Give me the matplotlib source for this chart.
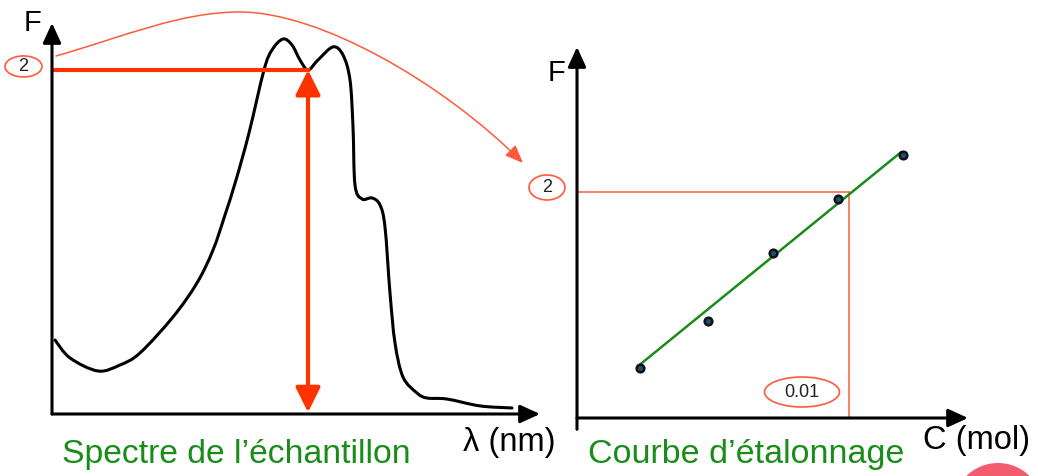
import numpy as np
import matplotlib
matplotlib.use("Agg")
import matplotlib.pyplot as plt
from matplotlib.patches import Ellipse, FancyArrowPatch, Circle, PathPatch
from matplotlib.path import Path

plt.rcParams['font.family'] = ['Liberation Sans', 'DejaVu Sans']

# Fluorescence spectrum of the sample
wavelength_nm = [203, 218, 246, 268, 288, 321, 345, 361, 373, 384, 397, 412, 420,
                 431, 440, 448, 456, 466, 481, 491, 498, 501, 503, 510, 520, 528,
                 533, 538, 543, 551, 565, 575, 595, 628, 660]
spectrum_F = [0.430, 0.326, 0.250, 0.285, 0.355, 0.564, 0.762, 0.953, 1.157, 1.360,
              1.634, 2.000, 2.116, 2.180, 2.145, 2.058, 2.000, 2.058, 2.134, 2.087,
              1.942, 1.669, 1.331, 1.250, 1.256, 1.215, 1.087, 0.703, 0.413, 0.215,
              0.122, 0.093, 0.087, 0.047, 0.035]
measure_lambda = 456   # wavelength chosen for the measurement
measure_F = 2          # fluorescence read for the sample

# Calibration standards
standard_C = [0.0023, 0.0048, 0.0072, 0.0096, 0.0120]
standard_F = [0.44, 0.86, 1.46, 1.94, 2.33]
fit_C = [0.0023, 0.0119]
fit_F = [0.47, 2.35]
sample_C = 0.01

RED = '#ff3300'
THIN_RED = '#ff5a3c'
GREEN = '#1a8c1a'

W, H = 1038, 476
fig = plt.figure(figsize=(W / 100, H / 100), dpi=100)
fig.patch.set_facecolor('white')


def rect(x0, y_top, x1, y_bot):
    return [x0 / W, 1 - y_bot / H, (x1 - x0) / W, (y_bot - y_top) / H]


bg = fig.add_axes([0, 0, 1, 1])
bg.set_xlim(0, W)
bg.set_ylim(H, 0)
bg.axis('off')

axL = fig.add_axes(rect(52, 23, 540, 414))
axL.set_xlim(200, 688)
axL.set_ylim(0, 2.273)
axL.axis('off')

axR = fig.add_axes(rect(577, 47, 968, 418))
axR.set_xlim(0, 0.014375)
axR.set_ylim(0, 3.283)
axR.axis('off')


def to_px(ax, x, y):
    return bg.transData.inverted().transform(ax.transData.transform((x, y)))


def smooth_path(ax, xs, ys):
    """Cubic Bezier path through the points (Catmull-Rom tangents, in display space)."""
    pts = ax.transData.transform(np.column_stack([xs, ys]))
    n = len(pts)
    verts = [pts[0]]
    codes = [Path.MOVETO]
    for i in range(n - 1):
        p0 = pts[i - 1] if i > 0 else pts[i]
        p1, p2 = pts[i], pts[i + 1]
        p3 = pts[i + 2] if i + 2 < n else pts[i + 1]
        verts += [p1 + (p2 - p0) / 6, p2 - (p3 - p1) / 6, p2]
        codes += [Path.CURVE4] * 3
    verts = ax.transData.inverted().transform(np.array(verts))
    return Path(verts, codes)


def draw_axes_arrows(ax, x0, x1, y0, y1, y_start=None):
    kw = dict(arrowstyle='-|>,head_length=1.2,head_width=0.55', mutation_scale=10,
              lw=2.2, color='black', shrinkA=0, shrinkB=0)
    ax.annotate('', xy=(x1, y0), xytext=(x0, y0), arrowprops=kw, annotation_clip=False)
    ax.annotate('', xy=(x0, y1), xytext=(x0, y0 if y_start is None else y_start),
                arrowprops=kw, annotation_clip=False)


# ---- left panel: spectrum ----
draw_axes_arrows(axL, 200, 688, 0, 2.273)
axL.add_patch(PathPatch(smooth_path(axL, wavelength_nm, spectrum_F), fill=False,
                        ec='black', lw=2.2, capstyle='round', joinstyle='round',
                        clip_on=False))
axL.plot([201, measure_lambda], [measure_F, measure_F], color=RED, lw=3, clip_on=False)
axL.annotate('', xy=(measure_lambda, measure_F), xytext=(measure_lambda, 0.01),
             arrowprops=dict(arrowstyle='<|-|>,head_length=1.5,head_width=0.75',
                             mutation_scale=10, lw=3, color=RED,
                             shrinkA=0, shrinkB=0),
             annotation_clip=False)

# ---- right panel: calibration curve ----
draw_axes_arrows(axR, 0, 0.014375, 0, 3.283, y_start=-0.1)
axR.plot([0, sample_C], [measure_F, measure_F], color=THIN_RED, lw=1.1, clip_on=False)
axR.plot([sample_C, sample_C], [0, measure_F], color=THIN_RED, lw=1.1, clip_on=False)
axR.plot(fit_C, fit_F, color=GREEN, lw=1.8, clip_on=False)
axR.plot(standard_C, standard_F, 'o', ms=5.5, mfc='#1a4f7a', mec='#111111',
         mew=1.8, clip_on=False)


# ---- value bubbles ----
def bubble(center, w, h, text):
    bg.add_patch(Ellipse(center, w, h, fill=False, ec=THIN_RED, lw=1.2))
    bg.text(center[0], center[1] + 0.5, text, ha='center', va='center',
            fontsize=13, color='#222222')


c = to_px(axL, 200, measure_F)
bubble((c[0] - 28.5, c[1] - 3.5), 37, 21, '2')
c = to_px(axR, 0, measure_F)
bubble((c[0] - 30, c[1] - 4.5), 36, 25, '2')
c = to_px(axR, sample_C, 0)
bubble((c[0] - 47, c[1] - 26), 75, 30, '0.01')

# curved arrow carrying the reading from the spectrum to the calibration
verts = [(56, 56), (126, 36), (180, 12), (240, 12),
         (320, 12), (443, 83), (523, 163)]
codes = [Path.MOVETO] + [Path.CURVE4] * 6
bg.add_patch(FancyArrowPatch(path=Path(verts, codes),
                             arrowstyle='-|>,head_length=1.1,head_width=0.45',
                             mutation_scale=10, lw=1.1, color=THIN_RED))

# ---- labels ----
bg.text(24, 9, 'F', fontsize=21, ha='left', va='top')
bg.text(548, 59, 'F', fontsize=21, ha='left', va='top')
bg.text(463, 427, 'λ (nm)', fontsize=23.5, ha='left', va='top')
bg.text(923, 425, 'C (mol)', fontsize=23.5, ha='left', va='top')
bg.text(62, 463, 'Spectre de l’échantillon', fontsize=24.3, color=GREEN,
        ha='left', va='baseline')
bg.text(588, 463, 'Courbe d’étalonnage', fontsize=24.5, color=GREEN,
        ha='left', va='baseline')

# corner logo fragment
bg.add_patch(Circle((998, 508), 45, color='#f24a5e', alpha=0.9, lw=0))

fig.savefig('out.png', dpi=100)
